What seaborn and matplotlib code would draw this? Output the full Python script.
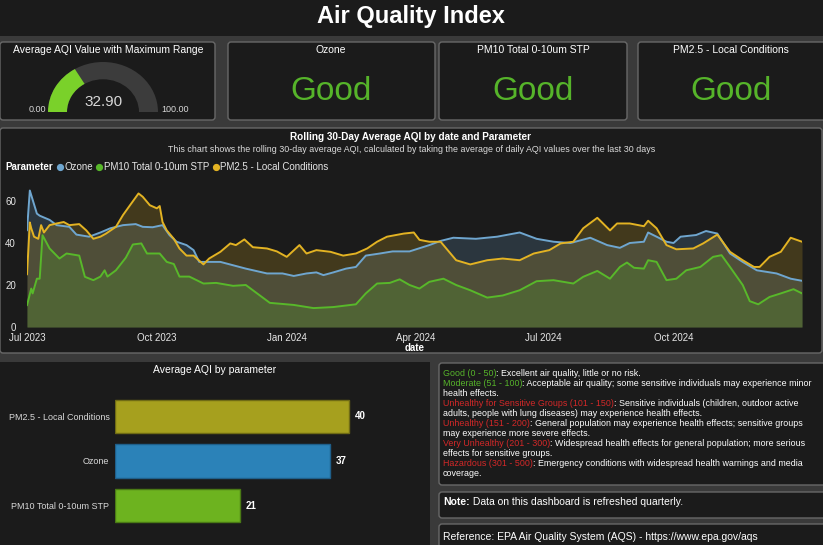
import numpy as np
import pandas as pd
import seaborn as sns
import matplotlib
import matplotlib.pyplot as plt
from matplotlib.patches import FancyBboxPatch, Rectangle, Wedge
from matplotlib.lines import Line2D
from matplotlib.transforms import Affine2D

matplotlib.use("Agg")

# ---- data ----
start = pd.Timestamp("2023-07-01")

ozone_day = [0, 2, 7, 9, 16, 21, 30, 35, 44, 52, 59, 68, 77, 82, 89, 96, 101, 106, 113, 118,
             122, 127, 137, 146, 155, 170, 181, 189, 198, 205, 210, 217, 226, 233, 240, 250,
             259, 271, 285, 293, 302, 318, 333, 349, 361, 373, 385, 399, 411, 420, 427, 437,
             440, 446, 453, 458, 463, 474, 481, 489, 498, 507, 517, 531, 541, 549]
ozone_aqi = [46, 65, 54, 53, 51, 48.5, 47.7, 44, 43, 45, 47, 48.5, 49, 47.7, 47.5, 48.5, 43.7,
             40.6, 39, 36.6, 31, 31, 31, 29.4, 27.8, 25.5, 25.5, 24.3, 25.5, 26, 24.7, 26, 27.8,
             28.6, 34, 35, 36, 36, 39, 41, 42.5, 42, 43, 45, 42, 40.6, 40, 42.5, 39, 37.7, 40,
             40.6, 45, 43, 40.6, 40, 43, 43.8, 45.7, 44.5, 35, 31, 27, 25.5, 23, 22]

pm25_day = [0, 2, 3, 5, 8, 10, 12, 16, 21, 26, 30, 37, 42, 47, 52, 56, 63, 68, 73, 79, 82, 87,
            92, 94, 96, 99, 104, 108, 113, 118, 125, 129, 137, 144, 148, 154, 160, 170, 177,
            184, 193, 198, 205, 215, 224, 233, 241, 248, 255, 267, 274, 278, 285, 293, 304,
            314, 326, 337, 349, 359, 370, 378, 387, 394, 404, 413, 418, 427, 437, 440, 446,
            453, 460, 472, 479, 489, 498, 507, 515, 519, 526, 534, 541, 549]
pm25_aqi = [25, 49.8, 47, 43, 42, 48.5, 45, 48.5, 49.3, 50, 48.5, 49, 46, 42, 43, 44.5, 47.7,
            53.3, 58, 63.6, 62, 58, 56.5, 57.6, 50, 46, 42, 37.4, 34, 34, 29.8, 32.6, 35.8, 39.8,
            39, 41.7, 38, 37.4, 36, 33.4, 39, 35, 36.6, 35.8, 34, 35, 37.4, 40.6, 43, 44.5, 45,
            41.5, 40.6, 40.6, 31.8, 29.8, 31.8, 32.6, 31.8, 35, 36.6, 39.8, 40.6, 47, 52, 46,
            49.3, 49.3, 48, 50.6, 47, 39, 37, 37.4, 39.8, 44, 35.8, 31.8, 28.6, 28.6, 33.4,
            35.8, 42.5, 40.6]

pm10_day = [0, 3, 4, 7, 9, 11, 16, 23, 28, 37, 41, 47, 52, 55, 57, 63, 70, 75, 81, 85, 94, 99,
            104, 108, 115, 125, 134, 146, 155, 165, 172, 189, 203, 217, 233, 240, 248, 257,
            264, 271, 278, 285, 295, 304, 314, 326, 337, 349, 361, 373, 387, 394, 404, 413,
            420, 425, 430, 437, 440, 446, 453, 460, 467, 477, 486, 492, 498, 507, 512, 518,
            526, 534, 543, 549]
pm10_aqi = [10.3, 18.3, 16, 23, 23, 43.7, 37.4, 32.6, 35, 34, 23.9, 22.3, 24, 27, 24, 27, 33,
            39.3, 39.8, 35, 35, 31, 30, 24, 24, 20.7, 21, 19.6, 20, 15, 11.5, 10.5, 9, 9.5, 10.8,
            16, 20.7, 21, 22.7, 20, 18.3, 21.5, 23, 20, 17.5, 14, 15, 17.5, 21.8, 22.3, 20.7,
            23.9, 26.7, 23, 28.6, 30.7, 28.2, 27.8, 31.8, 31, 22.3, 23, 27, 28.6, 33.4, 34.2,
            28.6, 20, 12.3, 10.8, 14.3, 16, 18, 16]

bar_params = ["PM2.5 - Local Conditions", "Ozone", "PM10 Total 0-10um STP"]
bar_avg = [40.0, 36.7, 21.3]

gauge_value = 32.90
gauge_max = 100.0
card_titles = ["Ozone", "PM10 Total 0-10um STP", "PM2.5 - Local Conditions"]
card_status = ["Good", "Good", "Good"]

xtick_dates = ["2023-07-01", "2023-10-01", "2024-01-01", "2024-04-01", "2024-07-01", "2024-10-01"]
xtick_labels = ["Jul 2023", "Oct 2023", "Jan 2024", "Apr 2024", "Jul 2024", "Oct 2024"]

# ---- colours ----
BG = "#1b1b1b"
BODY = "#3a3a3a"
EDGE = "#686868"
GOOD = "#56b42a"
RED = "#d42828"
line_pal = {"Ozone": "#6fa6cf", "PM10 Total 0-10um STP": "#58b82a",
            "PM2.5 - Local Conditions": "#e3b323"}
bar_pal = {"PM2.5 - Local Conditions": "#a6a01e", "Ozone": "#2b82b8",
           "PM10 Total 0-10um STP": "#6db31f"}
bar_edge = {"PM2.5 - Local Conditions": "#6f6b14", "Ozone": "#1f5f8a",
            "PM10 Total 0-10um STP": "#4a7a15"}

sns.set_style("dark", {"axes.facecolor": "none", "figure.facecolor": BODY})
plt.rcParams["font.family"] = ["Liberation Sans", "DejaVu Sans"]

W, H = 823, 545
fig = plt.figure(figsize=(W / 100, H / 100), dpi=100, facecolor=BODY)
# pixel coordinates with origin at the top-left corner
pix = Affine2D().scale(1 / 100, -1 / 100).translate(0, H / 100) + fig.dpi_scale_trans


def px_axes(x0, y0, x1, y1):
    ax = fig.add_axes([x0 / W, 1 - y1 / H, (x1 - x0) / W, (y1 - y0) / H])
    ax.set_facecolor("none")
    return ax


def panel(x0, y0, x1, y1, edge=EDGE):
    p = FancyBboxPatch((x0, y0), x1 - x0, y1 - y0, boxstyle="round,pad=0,rounding_size=3",
                       transform=pix, fc=BG, ec=edge, lw=1, zorder=-2)
    fig.add_artist(p)


def txt(x, y, s, **kw):
    kw.setdefault("color", "white")
    kw.setdefault("va", "center")
    return fig.text(x, y + 1, s, transform=pix, **kw)


def rich(x, y, parts, size):
    r = fig.canvas.get_renderer()
    for s, c, wt in parts:
        t = txt(x, y, s, color=c, fontsize=size, fontweight=wt, ha="left")
        x += t.get_window_extent(renderer=r).width * 100 / fig.dpi
    return x


# top band + title
fig.add_artist(Rectangle((0, 0), W, 36, transform=pix, fc=BG, ec="none", zorder=-3))
txt(411, 16, "Air Quality Index", fontsize=17, fontweight="bold", ha="center")

# ---- KPI cards ----
panel(0, 42, 215, 120)
panel(228, 42, 435, 120)
panel(439, 42, 627, 120)
panel(638, 42, 830, 120)
txt(108, 49, "Average AQI Value with Maximum Range", fontsize=7.5, ha="center")
for cx, title, status in zip([331, 533, 731], card_titles, card_status):
    txt(cx, 49, title, fontsize=7.5, ha="center")
    txt(cx, 91, status, fontsize=24, color=GOOD, ha="center")

# gauge (slightly flattened, as in the dashboard)
axg = px_axes(0, 42, 215, 120)
sy = 1.1
axg.set_xlim(0, 215)
axg.set_ylim(0, 78 * sy)
axg.axis("off")
cx, cy = 103, 8 * sy
axg.add_patch(Wedge((cx, cy), 55, 0, 180, width=19, fc="#3c3c3c", ec="none"))
frac = gauge_value / gauge_max
axg.add_patch(Wedge((cx, cy), 55, 180 - 180 * frac, 180, width=19, fc="#7ad12a", ec="none"))
txt(104, 101, f"{gauge_value:.2f}", fontsize=11, color="#d8d8d8", ha="center")
txt(37, 109, "0.00", fontsize=6.5, color="#d8d8d8", ha="center")
txt(175, 109, f"{gauge_max:.2f}", fontsize=6.5, color="#d8d8d8", ha="center")

# ---- rolling average chart ----
panel(0, 128, 822, 353)
txt(411, 136, "Rolling 30-Day Average AQI by date and Parameter", fontsize=7.2,
    fontweight="bold", ha="center")
txt(412, 149, "This chart shows the rolling 30-day average AQI, calculated by taking the "
    "average of daily AQI values over the last 30 days", fontsize=6.4, color="#dcdcdc",
    ha="center")

frames = []
for name, d, v in [("Ozone", ozone_day, ozone_aqi),
                   ("PM10 Total 0-10um STP", pm10_day, pm10_aqi),
                   ("PM2.5 - Local Conditions", pm25_day, pm25_aqi)]:
    frames.append(pd.DataFrame({"date": start + pd.to_timedelta(d, unit="D"),
                                "aqi": v, "Parameter": name}))
df = pd.concat(frames, ignore_index=True)

ax = px_axes(27, 180, 802, 327)
for name in ["Ozone", "PM2.5 - Local Conditions", "PM10 Total 0-10um STP"]:
    sub = df[df["Parameter"] == name]
    ax.fill_between(sub["date"], sub["aqi"], color=line_pal[name], alpha=0.2, lw=0)
sns.lineplot(data=df, x="date", y="aqi", hue="Parameter", palette=line_pal, estimator=None,
             legend=False, linewidth=1.4, ax=ax)
ax.set_xlim(start, start + pd.Timedelta(days=549))
ax.set_ylim(0, 70)
ax.set_yticks([0, 20, 40, 60])
ax.set_xticks(pd.to_datetime(xtick_dates))
ax.set_xticklabels(xtick_labels)
ax.tick_params(length=0, labelsize=7, colors="#e6e6e6")
ax.tick_params(axis="y", pad=8)
ax.tick_params(axis="x", pad=4)
ax.set_ylabel("")
ax.set_xlabel("date", fontsize=7, fontweight="bold", color="white", labelpad=0)
ax.grid(False)
for s in ax.spines.values():
    s.set_visible(False)

# legend row
x = rich(5, 166, [("Parameter", "white", "bold")], 7.0) + 7
for name in ["Ozone", "PM10 Total 0-10um STP", "PM2.5 - Local Conditions"]:
    fig.add_artist(Line2D([x], [167], transform=pix, marker="o", ms=4.2, ls="",
                          color=line_pal[name]))
    x = rich(x + 5, 166, [(name, "#e6e6e6", "normal")], 7.0) + 6

# ---- bar chart ----
fig.add_artist(Rectangle((0, 362), 430, 190, transform=pix, fc=BG, ec="none", zorder=-2))
txt(215, 369, "Average AQI by parameter", fontsize=7.5, ha="center")
axb = px_axes(115, 394, 400, 528)
sns.barplot(x=bar_avg, y=bar_params, hue=bar_params, palette=bar_pal, orient="h",
            width=0.74, saturation=1, legend=False, ax=axb)
for cont, name in zip(axb.containers, bar_params):
    for bar in cont:
        bar.set_edgecolor(bar_edge[name])
        bar.set_linewidth(1)
    axb.bar_label(cont, fmt="%.0f", padding=4, color="white", fontsize=7, fontweight="bold")
axb.set_xlim(0, 285 / 5.85)
axb.set_xticks([])
axb.tick_params(axis="y", length=0, labelsize=6.5, colors="#d8d8d8", pad=4)
axb.grid(False)
for s in axb.spines.values():
    s.set_visible(False)

# ---- AQI category text ----
panel(439, 363, 830, 485)
fs = 6.4
lines = [
    [("Good (0 - 50)", GOOD, "normal"), (": Excellent air quality, little or no risk.", "white", "normal")],
    [("Moderate (51 - 100)", GOOD, "normal"),
     (": Acceptable air quality; some sensitive individuals may experience minor", "white", "normal")],
    [("health effects.", "white", "normal")],
    [("Unhealthy for Sensitive Groups (101 - 150)", RED, "normal"),
     (": Sensitive individuals (children, outdoor active", "white", "normal")],
    [("adults, people with lung diseases) may experience health effects.", "white", "normal")],
    [("Unhealthy (151 - 200)", RED, "normal"),
     (": General population may experience health effects; sensitive groups", "white", "normal")],
    [("may experience more severe effects.", "white", "normal")],
    [("Very Unhealthy (201 - 300)", RED, "normal"),
     (": Widespread health effects for general population; more serious", "white", "normal")],
    [("effects for sensitive groups.", "white", "normal")],
    [("Hazardous (301 - 500)", RED, "normal"),
     (": Emergency conditions with widespread health warnings and media", "white", "normal")],
    [("coverage.", "white", "normal")],
]
for i, parts in enumerate(lines):
    rich(443, 372 + i * 10.1, parts, fs)

panel(439, 492, 830, 518)
rich(443, 501, [("Note:", "white", "bold"),
                (" Data on this dashboard is refreshed quarterly.", "white", "normal")], 7.5)
panel(439, 524, 830, 560)
rich(443, 536, [("Reference: EPA Air Quality System (AQS) - https://www.epa.gov/aqs", "white",
                 "normal")], 7.5)

fig.savefig("out.png", dpi=100, facecolor=BODY)
